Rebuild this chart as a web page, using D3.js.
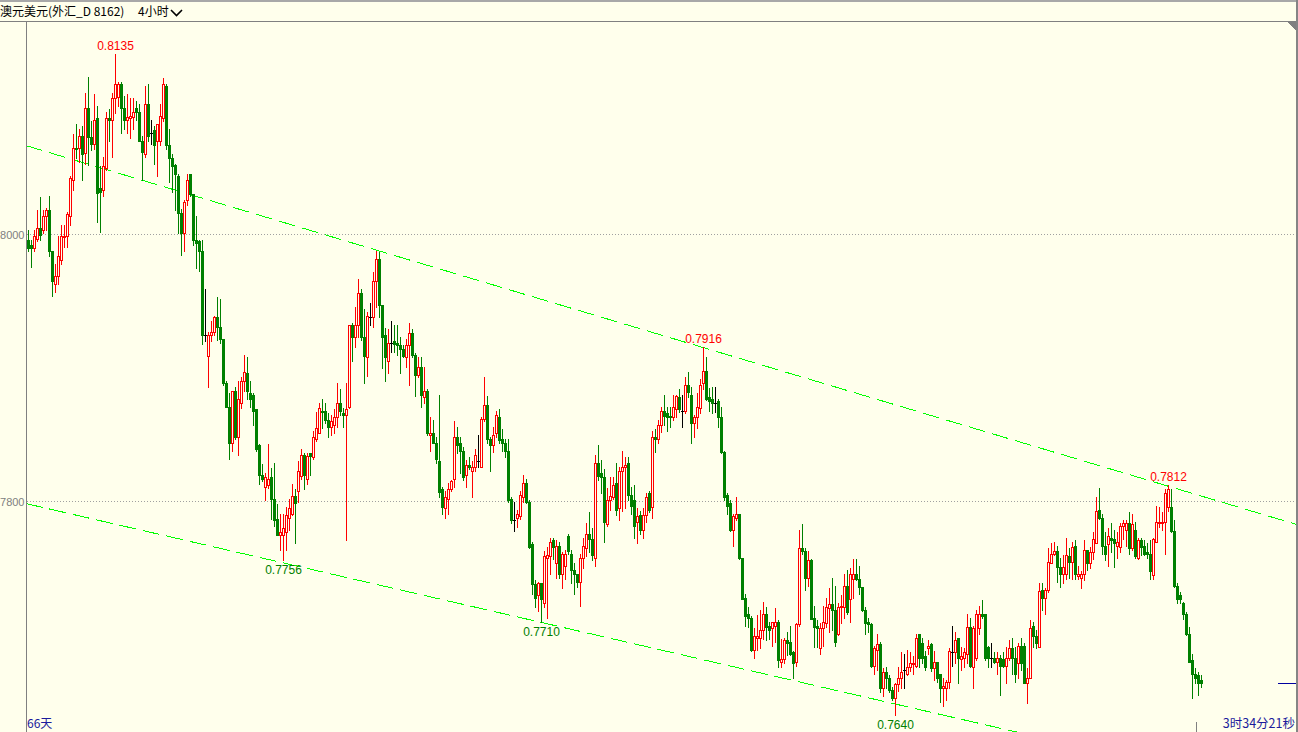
<!DOCTYPE html>
<html><head><meta charset="utf-8">
<script src="https://cdn.jsdelivr.net/npm/d3@7"></script>
<style>html,body{margin:0;padding:0;background:#FFFFEC;overflow:hidden}svg{display:block}</style>
</head><body>
<svg id="c" width="1298" height="732"></svg>
<script>
// AUD/USD 4-hour candles: [open, high, low, close] in units of 0.0001
const ohlcPips = [
[7996,8003,7988,7990],[7992,7996,7976,7990],[7990,8003,7988,7999],[7997,8018,7995,8005],[8005,8028,7996,8000],
[8003,8018,8001,8014],[8014,8020,8003,8018],[8018,8029,7984,7988],[7988,7988,7954,7965],[7963,7978,7957,7969],
[7969,7999,7963,7984],[7981,8007,7978,7999],[7998,8007,7991,7999],[7999,8017,7991,8015],[8014,8044,8007,8042],
[8041,8075,8033,8065],[8065,8083,8057,8064],[8065,8079,8054,8074],[8074,8081,8041,8060],[8061,8106,8053,8095],
[8095,8118,8052,8073],[8073,8085,8063,8068],[8068,8105,8064,8086],[8087,8096,8009,8031],[8035,8051,8002,8032],
[8033,8058,8029,8051],[8050,8092,8048,8087],[8087,8094,8070,8086],[8086,8106,8058,8102],[8102,8135,8091,8113],
[8103,8114,8096,8113],[8113,8114,8076,8095],[8095,8104,8079,8086],[8086,8105,8076,8088],[8087,8102,8072,8089],
[8088,8102,8079,8092],[8095,8100,8086,8092],[8092,8098,8070,8070],[8070,8074,8041,8062],[8060,8111,8058,8098],
[8098,8113,8070,8074],[8076,8086,8068,8076],[8078,8081,8053,8067],[8070,8083,8044,8083],[8070,8098,8067,8089],
[8087,8117,8085,8113],[8111,8113,8064,8067],[8067,8079,8039,8057],[8057,8060,8032,8051],[8052,8053,8018,8045],
[8044,8045,8001,8016],[8016,8019,7985,8001],[8001,8026,7988,8024],[8026,8045,8022,8041],[8045,8045,8029,8030],
[8030,8030,7992,7996],[7996,8014,7975,7994],[7995,7996,7973,7988],[7988,7996,7918,7925],[7925,7959,7920,7925],
[7909,7927,7886,7925],[7925,7935,7920,7927],[7927,7939,7925,7938],[7938,7953,7921,7931],[7931,7952,7919,7922],
[7922,7922,7887,7889],[7889,7890,7871,7871],[7871,7881,7832,7844],[7844,7883,7838,7883],[7883,7886,7847,7848],
[7848,7890,7835,7877],[7874,7893,7870,7890],[7890,7910,7883,7897],[7896,7908,7877,7883],[7881,7890,7871,7877],
[7880,7881,7857,7868],[7869,7869,7838,7839],[7842,7843,7813,7820],[7820,7828,7815,7817],[7811,7821,7801,7818],
[7812,7843,7810,7817],[7818,7825,7787,7802],[7802,7829,7782,7786],[7787,7798,7775,7775],[7775,7791,7764,7777],
[7775,7791,7756,7780],[7777,7796,7764,7790],[7788,7802,7779,7795],[7791,7813,7790,7804],[7804,7809,7769,7799],
[7808,7830,7800,7823],[7819,7839,7817,7835],[7835,7836,7809,7820],[7817,7836,7813,7834],[7836,7836,7820,7834],
[7833,7853,7832,7848],[7847,7867,7845,7855],[7851,7874,7851,7870],[7868,7877,7855,7867],[7868,7874,7859,7861],
[7861,7866,7848,7856],[7856,7865,7850,7860],[7857,7869,7851,7863],[7863,7889,7856,7874],[7874,7884,7865,7868],
[7866,7870,7856,7865],[7865,7889,7771,7869],[7871,7932,7870,7932],[7932,7934,7905,7923],[7923,7946,7916,7932],
[7932,7967,7923,7956],[7956,7959,7921,7923],[7923,7944,7889,7909],[7908,7942,7894,7939],[7938,7949,7932,7938],
[7938,7972,7931,7965],[7965,7988,7946,7982],[7982,7987,7938,7947],[7947,7947,7900,7923],[7925,7930,7890,7908],
[7905,7929,7896,7919],[7919,7935,7912,7919],[7920,7932,7912,7918],[7919,7932,7910,7917],[7917,7923,7896,7914],
[7914,7917,7908,7909],[7908,7922,7901,7917],[7917,7934,7887,7926],[7926,7929,7908,7910],[7910,7911,7879,7895],
[7895,7908,7893,7901],[7901,7908,7871,7880],[7878,7901,7874,7883],[7883,7884,7850,7851],[7850,7863,7838,7851],
[7851,7861,7844,7844],[7844,7848,7829,7832],[7830,7880,7803,7807],[7809,7811,7791,7796],[7795,7808,7788,7803],
[7802,7814,7791,7809],[7809,7816,7808,7815],[7817,7860,7811,7848],[7848,7856,7836,7842],[7844,7848,7821,7838],
[7838,7841,7816,7818],[7820,7831,7811,7827],[7827,7833,7824,7826],[7823,7830,7803,7826],[7826,7839,7823,7835],
[7830,7850,7826,7830],[7826,7863,7826,7862],[7862,7893,7860,7872],[7872,7879,7844,7847],[7847,7848,7823,7842],
[7842,7856,7837,7850],[7851,7868,7848,7865],[7863,7869,7844,7846],[7847,7854,7838,7844],[7844,7847,7833,7838],
[7838,7847,7800,7801],[7802,7803,7784,7786],[7786,7800,7778,7786],[7788,7794,7781,7791],[7789,7808,7787,7805],
[7803,7820,7800,7814],[7814,7817,7799,7800],[7800,7801,7765,7766],[7768,7770,7731,7738],[7738,7741,7721,7728],
[7730,7740,7718,7739],[7739,7739,7710,7727],[7724,7763,7721,7759],[7758,7766,7713,7760],[7759,7773,7746,7770],
[7771,7773,7757,7766],[7754,7771,7743,7767],[7767,7770,7743,7746],[7746,7762,7735,7761],[7752,7764,7742,7761],
[7774,7776,7761,7763],[7761,7764,7739,7749],[7749,7754,7731,7746],[7746,7746,7736,7740],[7740,7761,7722,7758],
[7758,7773,7750,7767],[7765,7784,7759,7776],[7776,7792,7762,7772],[7772,7780,7756,7760],[7758,7835,7752,7829],
[7829,7842,7816,7819],[7821,7831,7806,7818],[7818,7824,7770,7785],[7783,7810,7782,7801],[7801,7818,7794,7804],
[7803,7818,7802,7812],[7814,7829,7790,7794],[7795,7826,7786,7823],[7823,7838,7793,7826],[7826,7833,7795,7827],
[7829,7833,7801,7805],[7805,7811,7791,7797],[7801,7812,7773,7782],[7785,7795,7769,7789],[7790,7793,7776,7779],
[7779,7795,7773,7790],[7790,7806,7785,7803],[7806,7808,7792,7794],[7796,7853,7788,7848],[7848,7854,7837,7847],
[7847,7861,7844,7857],[7857,7871,7852,7868],[7868,7880,7857,7864],[7866,7871,7853,7863],[7864,7871,7856,7863],
[7863,7880,7861,7871],[7869,7880,7863,7879],[7878,7884,7867,7869],[7868,7880,7856,7868],[7868,7893,7866,7887],
[7887,7897,7878,7882],[7880,7886,7844,7859],[7859,7865,7848,7863],[7863,7881,7855,7871],[7870,7892,7866,7887],
[7889,7916,7884,7898],[7898,7908,7876,7877],[7878,7885,7868,7875],[7877,7886,7866,7874],[7874,7886,7867,7874],
[7875,7877,7856,7863],[7863,7871,7836,7837],[7837,7838,7801,7803],[7805,7806,7791,7797],[7799,7801,7778,7779],
[7779,7791,7767,7789],[7788,7803,7786,7791],[7791,7791,7757,7758],[7758,7758,7727,7727],[7728,7731,7707,7714],
[7716,7721,7706,7713],[7713,7714,7688,7689],[7689,7705,7683,7699],[7698,7715,7689,7699],[7698,7719,7690,7704],
[7704,7725,7697,7716],[7716,7721,7696,7706],[7707,7710,7697,7704],[7705,7710,7692,7710],[7707,7720,7695,7710],
[7710,7711,7676,7681],[7680,7697,7676,7682],[7682,7698,7679,7696],[7696,7702,7685,7694],[7695,7707,7685,7686],
[7687,7688,7668,7679],[7680,7709,7677,7708],[7708,7779,7707,7765],[7765,7783,7761,7763],[7763,7765,7734,7743],
[7743,7763,7737,7756],[7756,7757,7712,7712],[7713,7722,7691,7706],[7707,7711,7691,7705],[7690,7709,7686,7705],
[7705,7722,7692,7710],[7709,7728,7706,7721],[7720,7735,7702,7723],[7723,7743,7704,7719],[7719,7737,7692,7695],
[7701,7724,7700,7721],[7721,7730,7709,7722],[7721,7746,7713,7737],[7737,7749,7716,7717],[7727,7750,7710,7746],
[7742,7757,7728,7746],[7746,7757,7741,7742],[7742,7752,7731,7736],[7736,7736,7718,7719],[7719,7721,7701,7709],
[7710,7713,7702,7708],[7708,7709,7676,7677],[7677,7692,7671,7690],[7689,7701,7674,7693],[7693,7695,7657,7660],
[7660,7675,7654,7672],[7672,7676,7660,7668],[7668,7670,7657,7659],[7659,7661,7651,7653],[7653,7664,7640,7663],
[7663,7676,7658,7668],[7668,7687,7660,7672],[7674,7686,7660,7674],[7671,7689,7670,7676],[7676,7687,7673,7679],
[7678,7684,7671,7679],[7677,7701,7676,7698],[7701,7701,7676,7683],[7694,7698,7679,7683],[7684,7688,7674,7676],
[7690,7696,7686,7692],[7693,7694,7673,7675],[7675,7688,7666,7680],[7680,7680,7665,7668],[7671,7671,7650,7660],
[7660,7668,7647,7662],[7660,7666,7651,7665],[7665,7690,7660,7688],[7687,7707,7677,7687],[7687,7702,7679,7696],
[7698,7698,7664,7683],[7682,7691,7674,7684],[7683,7690,7676,7687],[7686,7716,7679,7706],[7706,7713,7676,7677],
[7676,7707,7660,7705],[7683,7719,7681,7716],[7705,7722,7701,7716],[7716,7726,7713,7714],[7716,7716,7681,7683],
[7691,7692,7676,7683],[7683,7694,7676,7683],[7683,7687,7679,7680],[7680,7687,7671,7683],[7683,7685,7655,7677],
[7682,7687,7676,7677],[7677,7691,7664,7683],[7683,7696,7681,7690],[7690,7698,7671,7683],[7683,7691,7665,7671],
[7679,7694,7668,7692],[7692,7698,7674,7679],[7692,7694,7664,7664],[7664,7675,7649,7668],[7668,7711,7668,7705],
[7707,7710,7691,7699],[7699,7704,7690,7694],[7691,7739,7691,7733],[7734,7739,7719,7728],[7728,7735,7716,7734],
[7734,7765,7732,7755],[7754,7769,7754,7761],[7761,7770,7760,7763],[7763,7767,7740,7751],[7751,7758,7736,7746],
[7746,7760,7739,7751],[7746,7773,7742,7760],[7759,7765,7743,7755],[7755,7770,7742,7766],[7767,7771,7742,7746],
[7744,7752,7742,7746],[7743,7748,7735,7746],[7746,7771,7741,7764],[7764,7764,7749,7754],[7754,7766,7750,7762],
[7762,7777,7757,7772],[7769,7803,7769,7793],[7794,7810,7787,7788],[7788,7791,7761,7767],[7767,7777,7756,7761],
[7768,7780,7752,7774],[7773,7784,7762,7771],[7772,7779,7751,7769],[7767,7777,7758,7770],[7766,7784,7762,7782],
[7782,7786,7772,7784],[7779,7786,7767,7784],[7784,7792,7761,7765],[7765,7791,7764,7783],[7779,7785,7758,7759],
[7758,7773,7757,7771],[7771,7773,7760,7766],[7767,7771,7760,7761],[7762,7769,7758,7761],[7761,7771,7742,7748],
[7745,7773,7742,7772],[7770,7797,7770,7785],[7784,7796,7781,7785],[7784,7792,7779,7785],[7785,7809,7761,7806],
[7796,7812,7793,7809],[7796,7809,7777,7778],[7778,7786,7736,7737],[7737,7739,7724,7727],[7730,7732,7724,7727],
[7724,7725,7712,7716],[7716,7717,7700,7701],[7701,7706,7680,7680],[7681,7686,7653,7671],[7671,7675,7664,7668],
[7670,7672,7655,7664],[7666,7670,7661,7664]
];
const yTicks = [0.78, 0.80];
const yTickLabels = ["7800", "8000"];  // visible part of the axis labels
const highMarks = [29, 225, 380];   // candle indices labelled with their high
const lowMarks = [85, 171, 289];    // candle indices labelled with their low
const upperTrend = [[0, 0.8066], [400, 0.7798]];  // [candle index, price]
const lowerTrend = [[0, 0.7798], [330, 0.7627]];
const titleText = "澳元美元(外汇_D 8162)";
const periodText = "4小时";
const spanText = "66天";
const countdownText = "3时34分21秒";

const candles = ohlcPips.map(r => {
  const [o, h, l, c] = r.map(v => v / 10000);
  return {o, h: Math.max(h, o, c), l: Math.min(l, o, c), c};
});

const BG = "#FFFFEC", W = 1298, H = 732;
const PL = 26, PR = 1296, PT = 21, PB = 732;
const svg = d3.select("#c");

const x = d3.scaleLinear().domain([0, 1]).range([28.5, 31.5]);
const y = d3.scaleLinear().domain([0.78, 0.80]).range([501.5, 234.5]);
const fmt = d3.format(".4f");

svg.append("rect").attr("width", W).attr("height", H).attr("fill", BG);

// frame
svg.append("rect").attr("x", 0).attr("y", 0).attr("width", W).attr("height", 2).attr("fill", "#a8a8a8");
svg.append("line").attr("x1", 0).attr("x2", PR + 1).attr("y1", PT + 0.5).attr("y2", PT + 0.5)
  .attr("stroke", "#808080").attr("shape-rendering", "crispEdges");
svg.append("line").attr("x1", PL + 0.5).attr("x2", PL + 0.5).attr("y1", PT).attr("y2", PB)
  .attr("stroke", "#808080").attr("shape-rendering", "crispEdges");
svg.append("rect").attr("x", PR).attr("y", 0).attr("width", 2).attr("height", H).attr("fill", "#858585");
svg.append("polygon").attr("points", `${PR-9},${PT+1} ${PR},${PT+1} ${PR},${PT+10}`)
  .attr("fill", "#808080").attr("shape-rendering", "crispEdges");

// header
svg.append("text").attr("x", 0).attr("y", 16).attr("font-family", "'Noto Sans CJK SC'")
  .attr("font-size", 12).attr("fill", "#000").text(titleText);
svg.append("text").attr("x", 138).attr("y", 16).attr("font-family", "'Noto Sans CJK SC'")
  .attr("font-size", 12).attr("fill", "#000").text(periodText);
svg.append("path").attr("d", "M171,10 L176.5,15.5 L182,10").attr("fill", "none")
  .attr("stroke", "#000").attr("stroke-width", 1.6);

// grid + y labels
const yAxis = d3.axisLeft(y).tickValues(yTicks).tickSize(0)
  .tickFormat((d, i) => yTickLabels[i]);
const ga = svg.append("g").attr("transform", `translate(${PL - 1.5},0)`).call(yAxis);
ga.select(".domain").remove();
ga.selectAll("text").attr("font-family", "'Liberation Sans', Arial").attr("font-size", 11)
  .attr("fill", "#808080").attr("dy", "0.35em").attr("x", 0);
svg.append("g").selectAll("line").data(yTicks).join("line")
  .attr("x1", PL + 1).attr("x2", PR).attr("y1", d => y(d)).attr("y2", d => y(d))
  .attr("stroke", "#a0a0a0").attr("stroke-dasharray", "1,2").attr("shape-rendering", "crispEdges");

// channel lines
svg.append("clipPath").attr("id", "plot").append("rect")
  .attr("x", PL + 1).attr("y", PT + 1).attr("width", PR - PL - 1).attr("height", PB - PT);
function trend(pts) {
  const [[i0, p0], [i1, p1]] = pts;
  const X0 = x(i0), Y0 = y(p0), X1 = x(i1), Y1 = y(p1);
  const k = (Y1 - Y0) / (X1 - X0);
  svg.append("line").attr("clip-path", "url(#plot)")
    .attr("x1", PL).attr("y1", Y0 + k * (PL - X0))
    .attr("x2", PR).attr("y2", Y0 + k * (PR - X0))
    .attr("stroke", "#00ff00").attr("stroke-width", 1).attr("stroke-dasharray", "17,7")
    .attr("shape-rendering", "crispEdges");
}
trend(upperTrend);
trend(lowerTrend);

// candles
const RED = "#ff0000", GREEN = "#008000";
const g = svg.append("g").attr("shape-rendering", "crispEdges");
candles.forEach((d, i) => {
  const cx = x(i);
  const col = d.c > d.o ? RED : d.c < d.o ? GREEN : "#000";
  const yo = Math.round(y(d.o)), yc = Math.round(y(d.c));
  g.append("line").attr("x1", cx).attr("x2", cx)
    .attr("y1", Math.round(y(d.h))).attr("y2", Math.round(y(d.l)) + 1).attr("stroke", col);
  if (d.c > d.o) {
    g.append("path").attr("d", `M${cx-1},${yc+0.5}H${cx+1}V${yo+0.5}H${cx-1}Z`)
      .attr("fill", BG).attr("stroke", RED);
  } else if (d.c < d.o) {
    g.append("rect").attr("x", cx - 1.5).attr("y", yo).attr("width", 3)
      .attr("height", Math.max(1, yc - yo + 1)).attr("fill", GREEN);
  } else {
    g.append("line").attr("x1", cx - 1.5).attr("x2", cx + 1.5)
      .attr("y1", yo + 0.5).attr("y2", yo + 0.5).attr("stroke", "#000");
  }
});

// extreme labels
svg.append("g").selectAll("text").data(highMarks).join("text")
  .attr("x", i => x(i)).attr("y", i => y(candles[i].h) - 4).attr("text-anchor", "middle")
  .attr("font-family", "'Liberation Sans', Arial").attr("font-size", 12).attr("fill", RED)
  .text(i => fmt(candles[i].h));
svg.append("g").selectAll("text").data(lowMarks).join("text")
  .attr("x", i => x(i)).attr("y", i => y(candles[i].l) + 14).attr("text-anchor", "middle")
  .attr("font-family", "'Liberation Sans', Arial").attr("font-size", 12).attr("fill", GREEN)
  .text(i => fmt(candles[i].l));

// last price marker
const lastY = Math.round(y(candles[candles.length - 1].c)) + 0.5;
svg.append("line").attr("x1", 1278).attr("x2", PR).attr("y1", lastY).attr("y2", lastY)
  .attr("stroke", "#0000a0").attr("shape-rendering", "crispEdges");
svg.append("line").attr("x1", 1196.5).attr("x2", 1196.5).attr("y1", 722).attr("y2", PB)
  .attr("stroke", "#808080").attr("shape-rendering", "crispEdges");

// bottom texts
svg.append("text").attr("x", 27).attr("y", 728).attr("font-family", "'Noto Sans CJK SC'")
  .attr("font-size", 12).attr("fill", "#1c1c9c").text(spanText);
svg.append("text").attr("x", 1295).attr("y", 728).attr("text-anchor", "end")
  .attr("font-family", "'Noto Sans CJK SC'").attr("font-size", 12.5).attr("fill", "#1c1c9c").text(countdownText);
</script>
</body></html>
